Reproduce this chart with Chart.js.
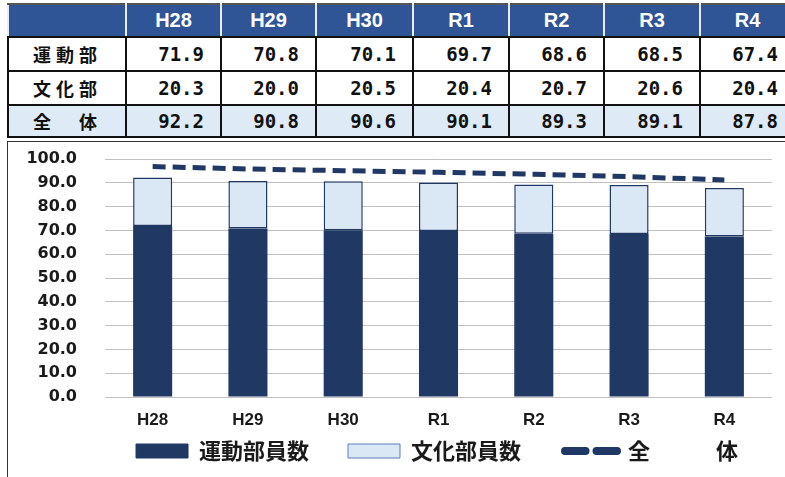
<!DOCTYPE html>
<html>
<head>
<meta charset="utf-8">
<script src="https://cdn.jsdelivr.net/npm/chart.js@4.4.0/dist/chart.umd.min.js"></script>
<style>
  body { margin: 0; background: #fff; width: 785px; height: 477px; overflow: hidden; position: relative; }
  #tbl { position: absolute; left: 7px; top: 3px; border-collapse: collapse; table-layout: fixed; width: 787px; }
  #tbl td { border: 2px solid #111; padding: 0; }
  #tbl tr.head td { background: #2f5597; color: #fff; text-align: center; height: 31px;
    font: bold 20px "Liberation Sans Narrow", "Liberation Sans", sans-serif; border-left-color: #e8eef8; border-right-color: #e8eef8; border-top-color: #555; }
  #tbl td.lbl { font: bold 18px "Noto Sans CJK JP", sans-serif; letter-spacing: 5px; padding-left: 24px; color: #111; }
  #tbl td.num { font: bold 19px "DejaVu Sans Mono", monospace; text-align: right; padding-right: 16px; color: #111; }
  #tbl tr.row td { height: 32px; }
  #tbl tr.sum td { background: #deeaf6; height: 30px; }
  #box { position: absolute; left: 7px; top: 141px; width: 800px; height: 360px; border: 1.5px solid #333; }
  #wrap { position: absolute; left: 8px; top: 142px; width: 777px; height: 335px; }
</style>
</head>
<body>
<table id="tbl"></table>
<div id="box"></div>
<div id="wrap"><canvas id="c"></canvas></div>
<script>
const years = ['H28', 'H29', 'H30', 'R1', 'R2', 'R3', 'R4'];
const sports = [71.9, 70.8, 70.1, 69.7, 68.6, 68.5, 67.4];
const culture = [20.3, 20.0, 20.5, 20.4, 20.7, 20.6, 20.4];
const totalTable = [92.2, 90.8, 90.6, 90.1, 89.3, 89.1, 87.8];
// 全体 line as it is drawn in the chart (sits above the bars)
const totalLine = [96.8, 95.8, 95.1, 94.4, 93.6, 92.6, 91.2];
const rowNames = ['運動部', '文化部', '全　体'];
const seriesNames = ['運動部員数', '文化部員数', '全　　　体'];
// extra space after each legend entry, to spread the legend like the original
const legendGaps = ['　 ', '　  ', '　'];

const navy = '#203864';
const light = '#dae8f6';

// table
const colW = [118, 95, 95, 97, 96, 95, 96, 95];
let html = '<colgroup>' + colW.map(w => `<col style="width:${w}px">`).join('') + '</colgroup>';
html += '<tr class="head"><td></td>' + years.map(y => `<td>${y}</td>`).join('') + '</tr>';
[sports, culture, totalTable].forEach((arr, i) => {
    const cls = i === 2 ? 'sum' : 'row';
    html += `<tr class="${cls}"><td class="lbl">${rowNames[i]}</td>` +
        arr.map(v => `<td class="num">${v.toFixed(1)}</td>`).join('') + '</tr>';
});
document.getElementById('tbl').innerHTML = html;

// chart
const ctx = document.getElementById('c').getContext('2d');

// y labels are mirrored (no clipping), so shift them back left of the plot
ctx.font = 'bold 16px "DejaVu Sans"';
const widest = ctx.measureText('100.0').width;
const labelGap = 28;

new Chart(ctx, {
    data: {
        labels: years,
        datasets: [
            {
                type: 'bar', label: seriesNames[0], data: sports,
                backgroundColor: navy, borderColor: navy, borderWidth: 0, stack: 'bars',
                order: 2
            },
            {
                type: 'bar', label: seriesNames[1], data: culture,
                backgroundColor: light, borderColor: navy, borderWidth: 1.5, borderSkipped: false, stack: 'bars',
                order: 2
            },
            {
                type: 'line', label: seriesNames[2], data: totalLine,
                borderColor: navy, borderWidth: 5, borderDash: [13, 7], pointRadius: 0,
                fill: false, stack: 'line', order: 1
            }
        ]
    },
    options: {
        responsive: true,
        maintainAspectRatio: false,
        animation: false,
        datasets: { bar: { categoryPercentage: 1, barPercentage: 0.41 } },
        layout: { padding: { left: 69, right: 13, top: 17, bottom: 5 } },
        scales: {
            x: {
                stacked: true,
                grid: { display: false, drawTicks: false },
                border: { display: false },
                ticks: { padding: 13, color: '#1a1a1a', font: { family: 'Liberation Sans', size: 17, weight: 'bold' } },
                afterFit: (s) => { s.height = 31; }
            },
            y: {
                stacked: true,
                min: 0, max: 100,
                grid: { color: '#c0c0c0', lineWidth: 1, drawTicks: false },
                border: { display: false },
                ticks: {
                    stepSize: 10, mirror: true, crossAlign: 'far', padding: -(labelGap + widest),
                    color: '#1a1a1a',
                    font: { family: 'DejaVu Sans', size: 16, weight: 'bold' },
                    callback: (v) => v.toFixed(1)
                },
                afterFit: (s) => { s.width = 28; }
            }
        },
        plugins: {
            tooltip: { enabled: false },
            legend: {
                position: 'bottom',
                align: 'end',
                labels: {
                    usePointStyle: true,
                    pointStyleWidth: 52,
                    boxHeight: 14,
                    padding: 12,
                    color: '#1a1a1a',
                    font: { family: 'Noto Sans CJK JP', size: 22, weight: 'bold' },
                    sort: (a, b) => a.datasetIndex - b.datasetIndex,
                    generateLabels(chart) {
                        const items = Chart.defaults.plugins.legend.labels.generateLabels(chart);
                        items.forEach(it => {
                            it.text = it.text + legendGaps[it.datasetIndex];
                            if (it.datasetIndex === 2) {
                                it.pointStyle = 'line';
                                it.lineDash = [20.5, 11];
                                it.lineCap = 'round';
                                it.lineWidth = 8;
                                it.strokeStyle = navy;
                            } else {
                                it.pointStyle = 'rect';
                                it.lineWidth = 1;
                                it.strokeStyle = it.datasetIndex === 0 ? navy : '#5b7fb5';
                            }
                        });
                        return items;
                    }
                }
            }
        }
    }
});
</script>
</body>
</html>
